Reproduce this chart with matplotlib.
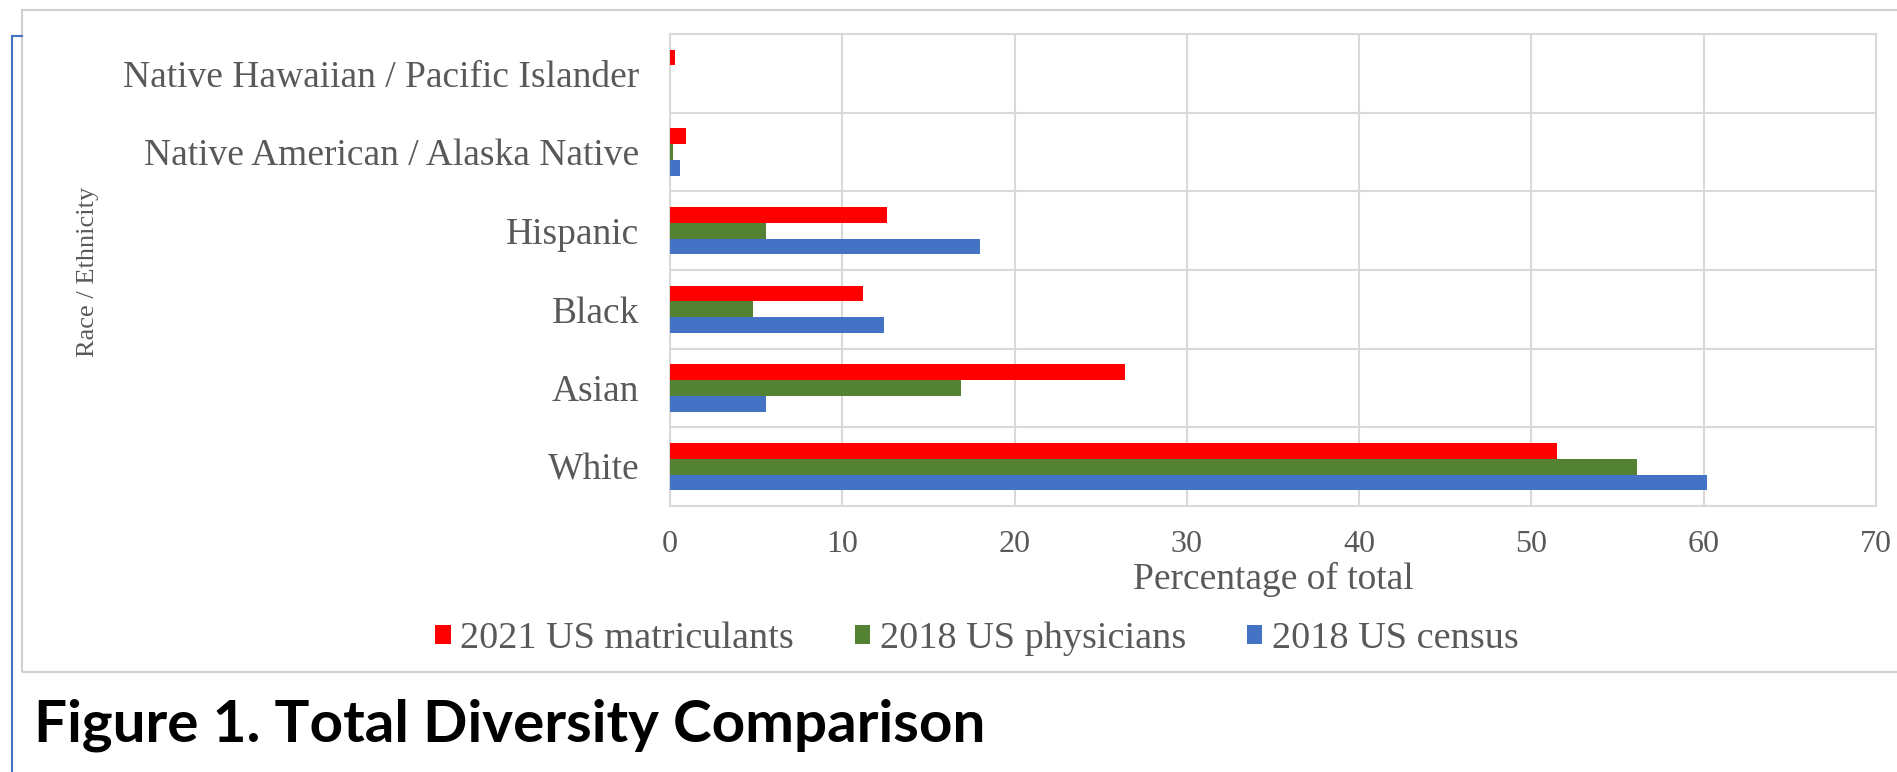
import matplotlib.pyplot as plt
import numpy as np
from matplotlib.patches import Rectangle
from matplotlib.lines import Line2D

categories = ["White", "Asian", "Black", "Hispanic",
              "Native American / Alaska Native",
              "Native Hawaiian / Pacific Islander"]
matriculants_2021 = [51.5, 26.4, 11.2, 12.6, 0.9, 0.3]
physicians_2018 = [56.1, 16.9, 4.8, 5.6, 0.2, 0.0]
census_2018 = [60.2, 5.6, 12.4, 18.0, 0.6, 0.0]

series = [("2021 US matriculants", matriculants_2021, "#ff0000"),
          ("2018 US physicians", physicians_2018, "#548235"),
          ("2018 US census", census_2018, "#4472c4")]

serif = ["Liberation Serif", "DejaVu Serif"]
gray = "#595959"

fig = plt.figure(figsize=(18.97, 7.72), dpi=100)

# outer chart frame and the blue margin line
fig.add_artist(Rectangle((22 / 1897, 1 - 672 / 772), 1.0, (672 - 10) / 772,
                         transform=fig.transFigure, fill=False,
                         edgecolor="#d0d0d0", lw=1.5))
fig.add_artist(Line2D([12 / 1897, 12 / 1897], [0, 1 - 36 / 772],
                      transform=fig.transFigure, color="#4472c4", lw=1.5))
fig.add_artist(Line2D([12 / 1897, 22 / 1897], [1 - 36 / 772, 1 - 36 / 772],
                      transform=fig.transFigure, color="#4472c4", lw=1.5))

ax = fig.add_axes([670 / 1897, 1 - 506 / 772, (1876 - 670) / 1897, (506 - 34) / 772])

y = np.arange(len(categories))
h = 0.2
offsets = [h, 0, -h]
for (label, vals, color), off in zip(series, offsets):
    ax.barh(y + off, vals, height=h, color=color, label=label, zorder=3)

ax.set_xlim(0, 70)
ax.set_ylim(-0.5, len(categories) - 0.5)
ax.set_xticks(range(0, 71, 10))
ax.set_yticks(y)
ax.set_yticklabels(categories)
ax.set_yticks(np.arange(-0.5, len(categories), 1), minor=True)
ax.tick_params(axis="y", which="both", length=0, pad=22)
ax.tick_params(axis="x", length=0, pad=17)
ax.grid(axis="x", color="#d9d9d9", lw=1.5, zorder=0)
ax.grid(axis="y", which="minor", color="#d9d9d9", lw=1.5, zorder=0)
for s in ax.spines.values():
    s.set_color("#d9d9d9")
    s.set_linewidth(1.5)

for t in ax.get_xticklabels():
    t.set_fontfamily(serif)
    t.set_color(gray)
    t.set_fontsize(23)
for t in ax.get_yticklabels():
    t.set_fontfamily(serif)
    t.set_color(gray)
    t.set_fontsize(27)

fig.text((670 + 1876) / 2 / 1897, 1 - 579 / 772, "Percentage of total", ha="center", va="center",
         fontfamily=serif, fontsize=27, color=gray)
fig.text(88 / 1897, 1 - 272 / 772, "Race / Ethnicity", rotation=90, ha="center", va="center",
         fontfamily=serif, fontsize=19, color=gray)

leg = fig.legend(loc="center", bbox_to_anchor=(0.515, 1 - 639 / 772), ncol=3, frameon=False,
                 prop={"family": serif, "size": 27.5}, handlelength=0.4, handleheight=0.4,
                 handletextpad=0.25, columnspacing=1.6)
for t in leg.get_texts():
    t.set_color(gray)

fig.text(34 / 1897, 1 - 742 / 772, "Figure 1. Total Diversity Comparison",
         fontfamily=["Lato", "DejaVu Sans"], fontweight="bold", fontsize=42,
         color="black", ha="left", va="baseline")

fig.savefig("out.png", dpi=100)
